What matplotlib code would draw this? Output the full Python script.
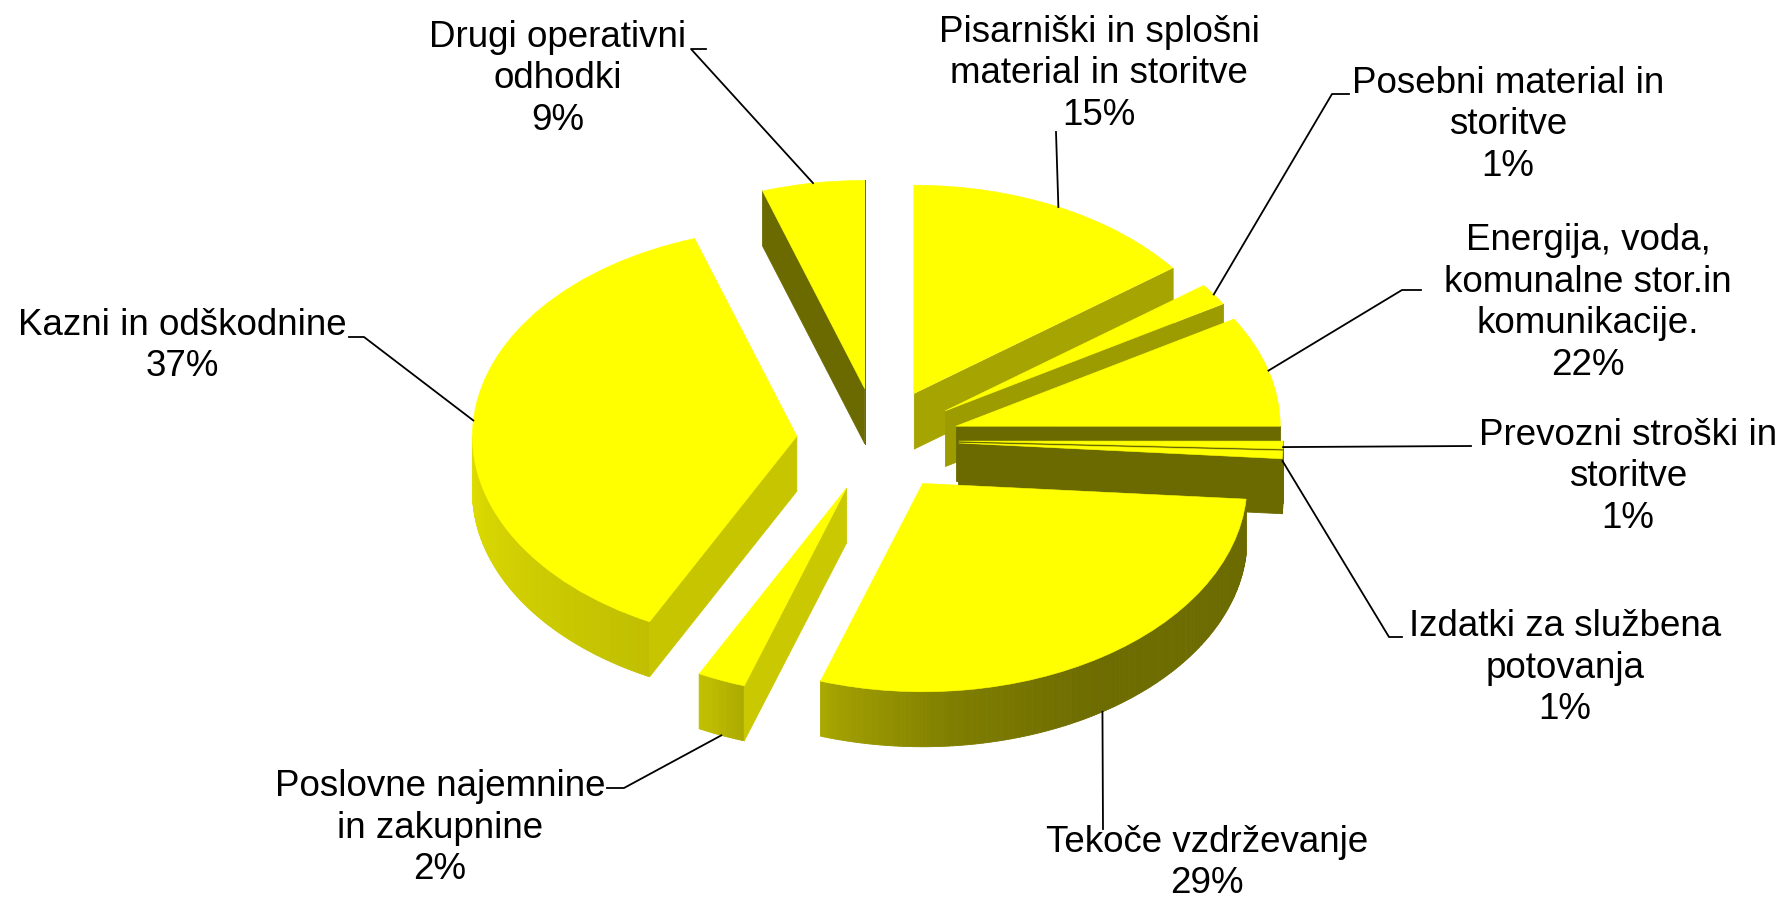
import numpy as np
import matplotlib
matplotlib.use('Agg')
import matplotlib.pyplot as plt
from matplotlib.collections import PolyCollection

# Slice names (clockwise from 12 o'clock) and the percentage text Excel printed
categories = [
    'Pisarniški in splošni\nmaterial in storitve',
    'Posebni material in\nstoritve',
    'Energija, voda,\nkomunalne stor.in\nkomunikacije.',
    'Prevozni stroški in\nstoritve',
    'Izdatki za službena\npotovanja',
    'Tekoče vzdrževanje',
    'Poslovne najemnine\nin zakupnine',
    'Kazni in odškodnine',
    'Drugi operativni\nodhodki',
]
# slice sizes as drawn in the picture (share of the pie, %)
shares = [14.7, 1.7, 8.6, 0.6, 0.6, 28.9, 2.4, 37.4, 5.1]
pct_labels = ['15%', '1%', '22%', '1%', '1%', '29%', '2%', '37%', '9%']

# label layout, figure pixels (x, y from top)
label_xy = [(1099, 74), (1508, 125), (1588, 303), (1628, 477), (1565, 668),
            (1207, 863), (440, 828), (182, 346), (558, 79)]
label_end = [(1056, 132), (1349, 94), (1421, 290), (1471, 446), (1402, 637),
             (1103, 829), (607, 788), (349, 337), (706, 49)]
label_knee = [None, (1332, 94), (1402, 290), None, (1389, 637),
              None, (624, 788), (364, 337), (691, 49)]

# pie geometry in pixels
CX, CY = 877.7, 440.1
KX, KY = 324.4, 208.3
DEPTH = 55 / KY


def px(x, y):
    return ((x - CX) / KX, (CY - y) / KY)


def rim_shade(phi):
    return np.interp(phi, [180, 245, 255, 275, 300, 360], [0.88, 0.75, 0.63, 0.5, 0.43, 0.42])


def wall_shade(phi):
    return np.interp(phi, [180, 270, 307, 335, 360], [0.42, 0.42, 0.65, 0.79, 0.8])


def olive(b):
    return (b, b * 0.99, 0.0)


fig = plt.figure(figsize=(17.85, 9), dpi=100)
ax = fig.add_axes([0, 0, 1, 1])

wedges, _ = ax.pie(shares, startangle=90, counterclock=False,
                   explode=[0.25] * len(shares), colors=['#ffff00'] * len(shares),
                   wedgeprops=dict(edgecolor='#ffff00', linewidth=0.4))
ax.set_aspect('auto')
ax.set_xlim(-CX / KX, (1785 - CX) / KX)
ax.set_ylim((CY - 900) / KY, CY / KY)
ax.axis('off')

# back slices first, front slices last
mids = [np.radians((w.theta1 + w.theta2) / 2) for w in wedges]
order = sorted(range(len(wedges)), key=lambda i: -np.sin(mids[i]))

for rank, i in enumerate(order):
    w = wedges[i]
    cx, cy = w.center
    t1, t2 = w.theta1, w.theta2
    polys, cols = [], []

    # outer rim, front half only
    ang = np.linspace(t1, t2, max(4, int((t2 - t1) * 2)))
    for a0, a1 in zip(ang[:-1], ang[1:]):
        am = np.radians((a0 + a1) / 2)
        if np.sin(am) >= 0:
            continue
        r0, r1 = np.radians(a0), np.radians(a1)
        p0 = (cx + np.cos(r0), cy + np.sin(r0))
        p1 = (cx + np.cos(r1), cy + np.sin(r1))
        polys.append([p0, p1, (p1[0], p1[1] - DEPTH), (p0[0], p0[1] - DEPTH)])
        cols.append(olive(rim_shade(np.degrees(am) % 360)))

    # cut faces along the radii
    for a, visible, phi in [(t1, np.cos(np.radians(t1)) > 0, t1 - 90),
                            (t2, np.cos(np.radians(t2)) < 0, t2 + 90)]:
        if not visible:
            continue
        r = np.radians(a)
        p = (cx + np.cos(r), cy + np.sin(r))
        polys.append([(cx, cy), p, (p[0], p[1] - DEPTH), (cx, cy - DEPTH)])
        cols.append(olive(wall_shade(phi % 360)))

    ax.add_collection(PolyCollection(polys, facecolors=cols, edgecolors=cols,
                                     linewidths=0.6, zorder=2 * rank + 1))
    w.set_zorder(2 * rank + 2)

# labels and leader lines
for i, w in enumerate(wedges):
    m = mids[i]
    cx, cy = w.center
    drop = DEPTH * np.clip(-2 * np.sin(m), 0, 1)
    anchor = (cx + np.cos(m), cy + np.sin(m) - drop)
    pts = [px(*label_end[i])]
    if label_knee[i] is not None:
        pts.append(px(*label_knee[i]))
    pts.append(anchor)
    xs, ys = zip(*pts)
    ax.plot(xs, ys, color='black', lw=1.3, zorder=50)
    ax.text(*px(*label_xy[i]), categories[i] + '\n' + pct_labels[i],
            ha='center', va='center', ma='center', fontsize=26.5,
            family='Liberation Sans', linespacing=1.24, zorder=60)

fig.savefig('out.png', dpi=100, facecolor='white')
